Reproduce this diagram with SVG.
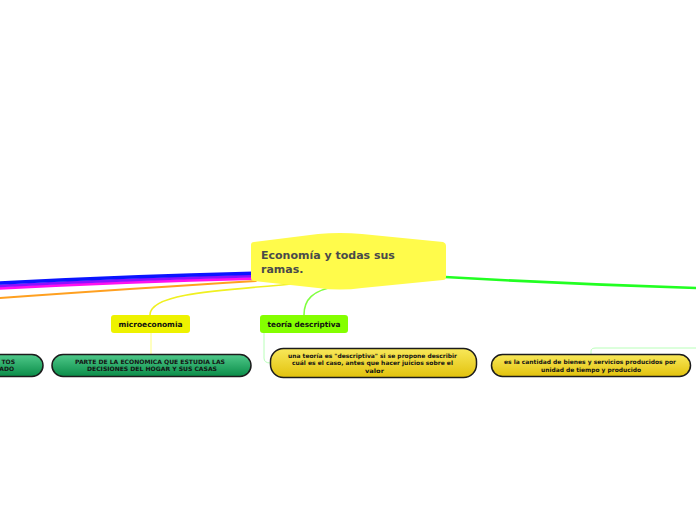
<svg xmlns="http://www.w3.org/2000/svg" width="696" height="520" viewBox="0 0 696 520">
<defs>
<linearGradient id="gGreen" x1="0" y1="0" x2="0" y2="1">
<stop offset="0" stop-color="#4fc98a"/>
<stop offset="1" stop-color="#0a8c48"/>
</linearGradient>
<linearGradient id="gYellow" x1="0" y1="0" x2="0" y2="1">
<stop offset="0" stop-color="#f8e85a"/>
<stop offset="1" stop-color="#e2c20c"/>
</linearGradient>
</defs>
<style>
.c{fill:none;stroke-linecap:round}
.t{font-family:"DejaVu Sans","Liberation Sans",sans-serif;font-weight:bold}
.sm{font-size:6px;fill:#141414;text-anchor:middle}
.lab{font-size:7.4px;fill:#111;text-anchor:middle}
.pill{stroke:#1c1c1c;stroke-width:1.5}
</style>
<rect width="696" height="520" fill="#ffffff"/>
<g id="connectors">
<path class="c" d="M0,288.3 Q130,281.5 253,278.5" stroke="#ff10f0" stroke-width="3"/>
<path class="c" d="M0,285.8 Q130,279 253,276" stroke="#8a10ff" stroke-width="2.8"/>
<path class="c" d="M0,283 Q130,276 253,273.2" stroke="#0a14ff" stroke-width="3.4"/>
<path class="c" d="M0,298 Q140,288 256,281" stroke="#ffa020" stroke-width="1.8"/>
<path class="c" d="M445,277 Q570,284 696,288" stroke="#22ff22" stroke-width="2.6"/>
<path class="c" d="M305,283 C210,291 150,294 150,315" stroke="#f0f020" stroke-width="1.6"/>
<path class="c" d="M338,286 C312,290 304,300 304,315" stroke="#80ff40" stroke-width="1.6"/>
<path class="c" d="M151,333 L151,354" stroke="#ffff80" stroke-width="1"/>
<path class="c" d="M264,333 L264,358 Q264,363 270,363" stroke="#b8ffb8" stroke-width="1"/>
<path class="c" d="M591,354 L591,351 Q591,348 596,348 L696,348" stroke="#b8ffb8" stroke-width="1"/>
</g>
<g id="central">
<path d="M254,242 L318,234 Q340,232 362,234 L443,242 Q446,243 446,246 L446,277 Q446,280 443,280 L362,288 Q340,291 318,288 L254,281 Q251,281 251,278 L251,245 Q251,242 254,242 Z" fill="#fffb4b"/>
<text class="t" x="261" y="259" font-size="11" fill="#4a4a4a">Economía y todas sus</text>
<text class="t" x="261" y="273" font-size="11" fill="#4a4a4a">ramas.</text>
</g>
<g id="microeconomia">
<rect x="111" y="315" width="79" height="18" rx="3" fill="#eef200"/>
<text class="t lab" x="150.5" y="327" textLength="64" lengthAdjust="spacingAndGlyphs">microeconomia</text>
</g>
<g id="teoria-descriptiva">
<rect x="260" y="315" width="88" height="18" rx="3" fill="#84ff00"/>
<text class="t lab" x="304" y="327" textLength="73" lengthAdjust="spacingAndGlyphs">teoría descriptiva</text>
</g>
<g id="node-left">
<rect x="-160" y="354.5" width="203" height="22" rx="11" fill="url(#gGreen)" class="pill"/>
<text class="t sm" x="15" y="364" style="text-anchor:end">TOS</text>
<text class="t sm" x="14" y="371" style="text-anchor:end">ADO</text>
</g>
<g id="node-parte">
<rect x="52" y="354.5" width="199" height="22" rx="11" fill="url(#gGreen)" class="pill"/>
<text class="t sm" x="150" y="364" textLength="150" lengthAdjust="spacingAndGlyphs">PARTE DE LA ECONOMICA QUE ESTUDIA LAS</text>
<text class="t sm" x="152" y="371" textLength="130" lengthAdjust="spacingAndGlyphs">DECISIONES DEL HOGAR Y SUS CASAS</text>
</g>
<g id="node-teoria">
<rect x="270.5" y="348.5" width="206" height="29" rx="13" fill="url(#gYellow)" class="pill"/>
<text class="t sm" x="372.5" y="357.5" textLength="169" lengthAdjust="spacingAndGlyphs">una teoría es "descriptiva" si se propone describir</text>
<text class="t sm" x="372.5" y="365" textLength="161" lengthAdjust="spacingAndGlyphs">cuál es el caso, antes que hacer juicios sobre el</text>
<text class="t sm" x="374.5" y="372.5" textLength="19" lengthAdjust="spacingAndGlyphs">valor</text>
</g>
<g id="node-cantidad">
<rect x="491.5" y="354.5" width="199" height="22" rx="11" fill="url(#gYellow)" class="pill"/>
<text class="t sm" x="590" y="364" textLength="172" lengthAdjust="spacingAndGlyphs">es la cantidad de bienes y servicios producidos por</text>
<text class="t sm" x="591" y="372" textLength="100" lengthAdjust="spacingAndGlyphs">unidad de tiempo y producido</text>
</g>
</svg>
